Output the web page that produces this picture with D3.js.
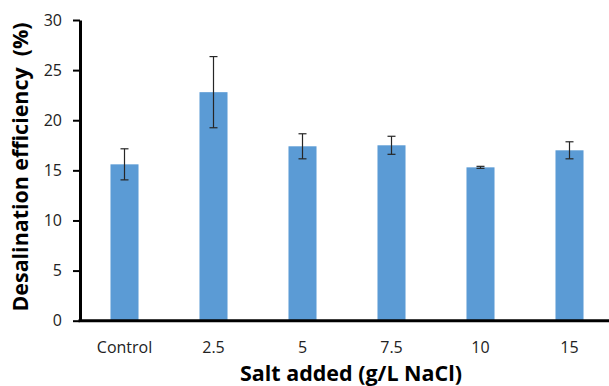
<!DOCTYPE html>
<html>
<head>
<meta charset="utf-8">
<script src="https://cdn.jsdelivr.net/npm/d3@7"></script>
<style>
  html, body { margin: 0; padding: 0; background: #fff; }
  svg { display: block; }
</style>
</head>
<body>
<svg id="chart" width="609" height="386"></svg>
<script>
const categories = ["Control", "2.5", "5", "7.5", "10", "15"];
const efficiency = [15.6, 22.8, 17.4, 17.5, 15.3, 17.0];
const errors = [1.55, 3.55, 1.25, 0.9, 0.1, 0.85];
const yTicks = [0, 5, 10, 15, 20, 25, 30];
const xTitle = "Salt added (g/L NaCl)";
const yTitle = "Desalination efficiency  (%)";

(function () {
const svg = d3.select("#chart");
const mLeft = 80, mRight = 614, mTop = 20, mBottom = 320.7;
const font = "'Open Sans', 'DejaVu Sans', sans-serif";

const x = d3.scaleBand().domain(categories).range([mLeft, mRight])
  .paddingInner(0.685).paddingOuter(0.3425);
const y = d3.scaleLinear().domain([0, 30]).range([mBottom, mTop]);

const data = categories.map((c, i) => ({ c, v: efficiency[i], e: errors[i] }));

// bars
svg.append("g").selectAll("rect").data(data).join("rect")
  .attr("x", d => x(d.c))
  .attr("y", d => y(d.v))
  .attr("width", x.bandwidth())
  .attr("height", d => y(0) - y(d.v))
  .attr("fill", "#5B9BD5");

// error bars
const eb = svg.append("g").attr("stroke", "#262626").attr("stroke-width", 1.2);
data.forEach(d => {
  const cx = x(d.c) + x.bandwidth() / 2;
  eb.append("line").attr("x1", cx).attr("x2", cx).attr("y1", y(d.v + d.e)).attr("y2", y(d.v - d.e));
  eb.append("line").attr("x1", cx - 4).attr("x2", cx + 4).attr("y1", y(d.v + d.e)).attr("y2", y(d.v + d.e));
  eb.append("line").attr("x1", cx - 4).attr("x2", cx + 4).attr("y1", y(d.v - d.e)).attr("y2", y(d.v - d.e));
});

// y axis
const yAxis = svg.append("g").attr("transform", `translate(${mLeft},0)`)
  .call(d3.axisLeft(y).tickValues(yTicks).tickSize(7).tickPadding(11).tickSizeOuter(0));
yAxis.select(".domain").attr("stroke", "#000").attr("stroke-width", 3);
yAxis.selectAll(".tick line").attr("stroke", "#000").attr("stroke-width", 2);
yAxis.selectAll(".tick text").attr("font-family", font).attr("font-size", 16).attr("fill", "#222");

// x axis
const xAxis = svg.append("g").attr("transform", `translate(0,${mBottom})`)
  .call(d3.axisBottom(x).tickSize(0).tickPadding(21).tickSizeOuter(0));
xAxis.select(".domain").attr("stroke", "#000").attr("stroke-width", 3)
  .attr("d", `M${mLeft - 1.5},0H${mRight}`);
xAxis.selectAll(".tick text").attr("font-family", font).attr("font-size", 16).attr("fill", "#222");

// titles
svg.append("text")
  .attr("x", 351).attr("y", 381)
  .attr("text-anchor", "middle")
  .attr("font-family", font).attr("font-weight", "bold").attr("font-size", 21.5)
  .attr("textLength", 222).attr("lengthAdjust", "spacingAndGlyphs")
  .attr("fill", "#000")
  .text(xTitle);

svg.append("text")
  .attr("transform", `translate(28,167) rotate(-90)`)
  .attr("text-anchor", "middle")
  .style("white-space", "pre")
  .attr("font-family", font).attr("font-weight", "bold").attr("font-size", 21.5)
  .attr("textLength", 289).attr("lengthAdjust", "spacingAndGlyphs")
  .attr("fill", "#000")
  .text(yTitle);
})();
</script>
</body>
</html>
